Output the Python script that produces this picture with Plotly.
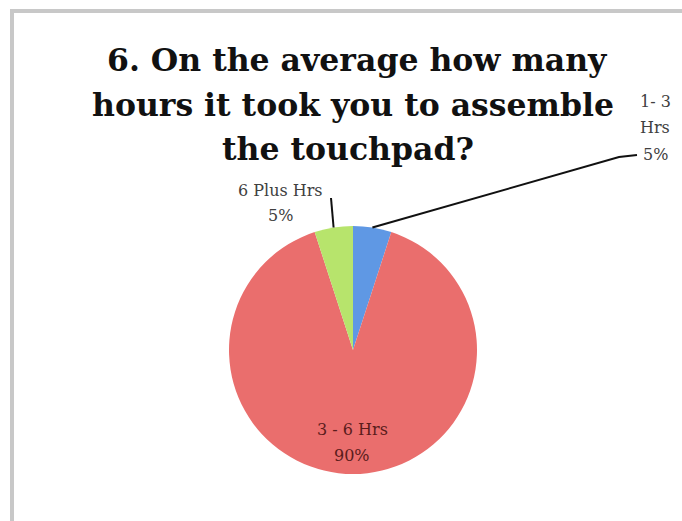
import math
import plotly.graph_objects as go

# ---- data ----
categories = ["1- 3 Hrs", "3 - 6 Hrs", "6 Plus Hrs"]
values = [5, 90, 5]
colors = ["#5f98e4", "#ea6e6d", "#b7e46c"]
title_lines = ["6. On the average how many", "hours it took you to assemble", "the touchpad?"]
label_lines = [["1- 3", "Hrs"], ["3 - 6 Hrs"], ["6 Plus Hrs"]]

W, H = 682, 521
CX, CY, R = 353, 350, 124  # pie centre / radius in pixels


def px(x):
    return x / W


def py(y):
    return 1 - y / H


fig = go.Figure(go.Pie(
    labels=categories,
    values=values,
    sort=False,
    direction="clockwise",
    rotation=0,
    marker=dict(colors=colors, line=dict(width=0)),
    textinfo="none",
    hoverinfo="label+percent",
    showlegend=False,
    domain=dict(x=[px(CX - R), px(CX + R)], y=[py(CY + R), py(CY - R)]),
))

total = sum(values)
pct = [round(v / total * 100) for v in values]

# slice mid-angles (clockwise from 12 o'clock)
mids = []
acc = 0
for v in values:
    mids.append((acc + v / 2) / total * 2 * math.pi)
    acc += v


def edge(a, r=R):
    return CX + r * math.sin(a), CY - r * math.cos(a)


shapes = []
annotations = []

# border
shapes.append(dict(type="rect", xref="paper", yref="paper",
                   x0=px(12), x1=1.05, y0=-0.05, y1=py(11),
                   line=dict(color="#c8c8c8", width=4), fillcolor="rgba(0,0,0,0)"))

# title lines
for t, xx, yy in zip(title_lines, [357, 353, 348], [72, 117, 162]):
    annotations.append(dict(text="<b>%s</b>" % t, x=px(xx), y=py(yy), xref="paper", yref="paper",
                            xanchor="center", yanchor="bottom", showarrow=False,
                            font=dict(family="DejaVu Serif", size=31.5, color="#111111"), yshift=-7.5))


def add_lines(lines, xc, ycs, font):
    for t, yc in zip(lines, ycs):
        annotations.append(dict(text=t, x=px(xc), y=py(yc), xref="paper", yref="paper",
                                xanchor="center", yanchor="middle", showarrow=False, font=font))


lab_font = dict(family="DejaVu Serif", size=16, color="#404040")

# 1-3 Hrs label with leader
sx, sy = edge(mids[0])
shapes.append(dict(type="path", xref="paper", yref="paper",
                   path="M %f %f L %f %f L %f %f" % (px(sx), py(sy), px(619), py(157), px(637), py(155)),
                   line=dict(color="#111111", width=2)))
add_lines(label_lines[0] + ["%d%%" % pct[0]], 655, [101, 127, 154], lab_font)

# 6 Plus Hrs label with leader
gx, gy = edge(mids[2])
shapes.append(dict(type="path", xref="paper", yref="paper",
                   path="M %f %f L %f %f" % (px(gx), py(gy), px(331), py(198)),
                   line=dict(color="#111111", width=2)))
add_lines(label_lines[2] + ["%d%%" % pct[2]], 280, [190, 216], lab_font)

# 3 - 6 Hrs label inside
add_lines(label_lines[1] + ["%d%%" % pct[1]], 352, [429, 455],
          dict(family="DejaVu Serif", size=16, color="#5a1c1c"))

fig.update_layout(width=W, height=H, margin=dict(l=0, r=0, t=0, b=0),
                  paper_bgcolor="white", plot_bgcolor="white",
                  shapes=shapes, annotations=annotations)

fig.write_html("out.html", config={"displayModeBar": False},
               post_script="document.body.style.margin='0px';")
